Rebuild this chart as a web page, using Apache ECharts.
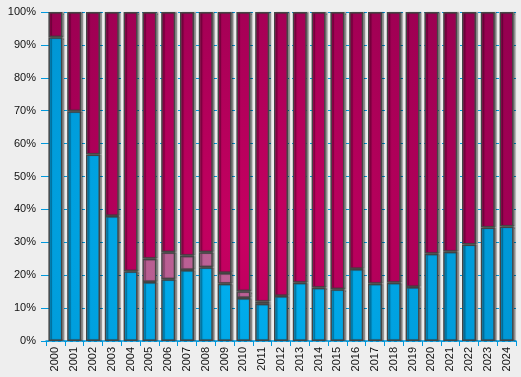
<!DOCTYPE html>
<html>
<head>
<meta charset="utf-8">
<script src="https://cdn.jsdelivr.net/npm/echarts@6/dist/echarts.min.js"></script>
<style>
  html, body { margin: 0; padding: 0; background: #eeeeee; }
  #chart { width: 521px; height: 377px; }
</style>
</head>
<body>
<div id="chart"></div>
<script>
// data (percent shares per year)
var years = ["2000", "2001", "2002", "2003", "2004", "2005", "2006", "2007", "2008", "2009",
  "2010", "2011", "2012", "2013", "2014", "2015", "2016", "2017", "2018", "2019",
  "2020", "2021", "2022", "2023", "2024"];
var blueShare = [92.3, 69.8, 56.7, 38.0, 21.2, 17.9, 18.8, 21.6, 22.4, 17.4,
  13.1, 11.3, 13.7, 17.7, 16.2, 15.7, 21.9, 17.4, 17.7, 16.4,
  26.5, 27.1, 29.3, 34.5, 34.8];
var mauveShare = [null, null, null, null, null, 7.1, 8.2, 4.3, 4.6, 3.3,
  2.0, 0.6, null, null, null, null, null, null, null, null,
  null, null, null, null, null];
var crimsonShare = [7.7, 30.2, 43.3, 62.0, 78.8, 75.0, 73.0, 74.1, 73.0, 79.3,
  84.9, 88.1, 86.3, 82.3, 83.8, 84.3, 78.1, 82.6, 82.3, 83.6,
  73.5, 72.9, 70.7, 65.5, 65.2];
var yTicks = [0, 10, 20, 30, 40, 50, 60, 70, 80, 90, 100];

// radial colours over the whole plot
function glow(inner, outer) {
  return {
    type: "radial", x: 250, y: 240, r: 330, global: true,
    colorStops: [{ offset: 0, color: inner }, { offset: 1, color: outer }]
  };
}

var barStyle = {
  borderColor: "#454545",
  borderWidth: 1.5,
  shadowColor: "rgba(0,0,0,0.35)",
  shadowOffsetX: 2,
  shadowOffsetY: 0,
  shadowBlur: 1
};

function makeSeries(name, data, color) {
  return {
    name: name,
    type: "bar",
    stack: "all",
    barWidth: 14,
    data: data,
    itemStyle: Object.assign({ color: color }, barStyle)
  };
}

var myChart = echarts.init(document.getElementById("chart"));
myChart.setOption({
  animation: false,
  backgroundColor: "#eeeeee",
  textStyle: { fontFamily: "Liberation Sans, Arial, sans-serif" },
  grid: { left: 46, right: 5, top: 12, bottom: 36 },
  xAxis: {
    type: "category",
    data: years,
    axisLine: { lineStyle: { color: "#0099dd", width: 1.5 } },
    axisTick: { show: true, length: 5, lineStyle: { color: "#0099dd" } },
    axisLabel: { rotate: 90, color: "#111", fontSize: 11, margin: 6 }
  },
  yAxis: {
    type: "value",
    min: 0,
    max: 100,
    interval: 10,
    axisLine: { show: false },
    axisTick: { show: true, length: 5, lineStyle: { color: "#0099dd" } },
    axisLabel: {
      color: "#111", fontSize: 11, margin: 10,
      formatter: function (v) { return yTicks.indexOf(v) >= 0 ? v + "%" : ""; }
    },
    splitLine: { show: true, lineStyle: { color: "#0099dd", type: [3, 3], width: 1 } }
  },
  series: [
    makeSeries("blue", blueShare, glow("#00b2f2", "#0092d0")),
    makeSeries("mauve", mauveShare, glow("#c0649a", "#a85080")),
    makeSeries("crimson", crimsonShare, glow("#c80062", "#960050"))
  ]
});
</script>
</body>
</html>
